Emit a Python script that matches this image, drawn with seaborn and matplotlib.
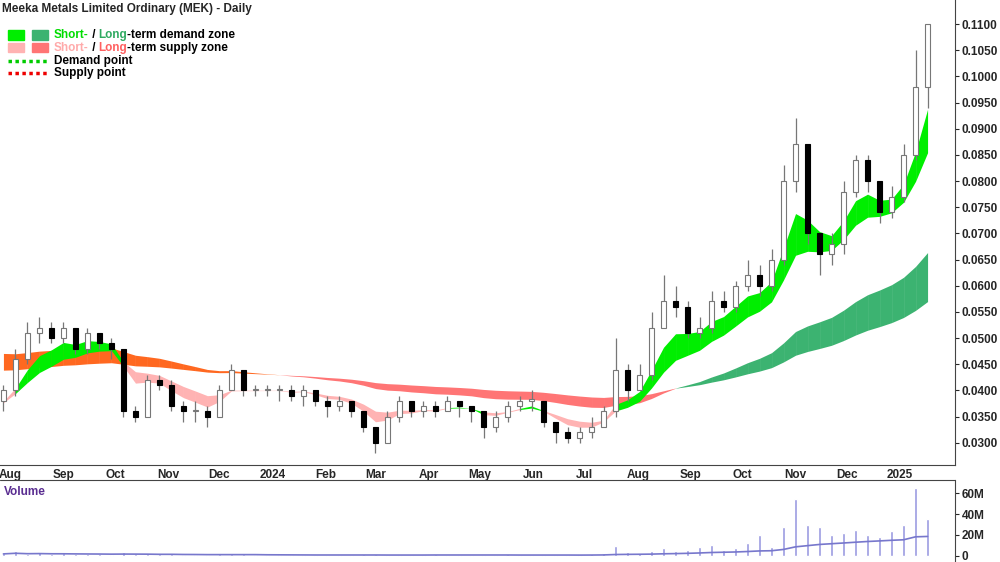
import numpy as np
import pandas as pd
import seaborn as sns
import matplotlib.pyplot as plt
import matplotlib.dates as mdates
from matplotlib.ticker import FuncFormatter

# weekly readings (price in $, volume in millions)
closes = [0.040, 0.046, 0.051, 0.052, 0.050, 0.052, 0.048, 0.051, 0.049, 0.048,
          0.036, 0.035, 0.042, 0.041, 0.037, 0.036, 0.036, 0.035, 0.040, 0.044,
          0.040, 0.040, 0.040, 0.040, 0.039, 0.040, 0.038, 0.037, 0.038, 0.036,
          0.033, 0.030, 0.035, 0.038, 0.036, 0.037, 0.036, 0.038, 0.037, 0.036,
          0.033, 0.035, 0.037, 0.038, 0.038, 0.034, 0.032, 0.031, 0.032, 0.033,
          0.036, 0.044, 0.040, 0.043, 0.052, 0.057, 0.056, 0.051, 0.052, 0.057,
          0.056, 0.060, 0.062, 0.060, 0.065, 0.080, 0.087, 0.070, 0.066, 0.068,
          0.078, 0.084, 0.080, 0.074, 0.077, 0.085, 0.098, 0.110]
highs = [0.041, 0.048, 0.053, 0.054, 0.053, 0.053, 0.052, 0.052, 0.051, 0.050,
         0.048, 0.037, 0.043, 0.043, 0.042, 0.038, 0.038, 0.037, 0.041, 0.045,
         0.044, 0.041, 0.041, 0.041, 0.041, 0.041, 0.040, 0.039, 0.039, 0.038,
         0.036, 0.033, 0.036, 0.039, 0.038, 0.038, 0.038, 0.039, 0.038, 0.037,
         0.036, 0.036, 0.038, 0.039, 0.040, 0.038, 0.034, 0.033, 0.033, 0.035,
         0.037, 0.050, 0.045, 0.045, 0.055, 0.062, 0.060, 0.057, 0.054, 0.059,
         0.059, 0.061, 0.065, 0.064, 0.067, 0.083, 0.092, 0.075, 0.070, 0.070,
         0.080, 0.085, 0.085, 0.080, 0.079, 0.087, 0.105, 0.110]
lows = [0.036, 0.039, 0.045, 0.049, 0.049, 0.049, 0.047, 0.047, 0.048, 0.046,
        0.035, 0.034, 0.035, 0.040, 0.036, 0.034, 0.034, 0.033, 0.035, 0.040,
        0.039, 0.039, 0.039, 0.038, 0.038, 0.037, 0.037, 0.035, 0.036, 0.035,
        0.032, 0.028, 0.030, 0.034, 0.035, 0.035, 0.035, 0.036, 0.035, 0.034,
        0.031, 0.032, 0.034, 0.036, 0.036, 0.033, 0.030, 0.030, 0.030, 0.031,
        0.033, 0.035, 0.038, 0.040, 0.042, 0.052, 0.054, 0.050, 0.050, 0.051,
        0.055, 0.055, 0.059, 0.058, 0.059, 0.064, 0.078, 0.068, 0.062, 0.064,
        0.066, 0.077, 0.078, 0.072, 0.073, 0.076, 0.084, 0.094]
volume_m = [3, 5, 2, 4, 2, 3, 2, 2, 2, 1,
            4, 2, 2, 2, 2, 1, 1, 1, 2, 2,
            2, 1, 1, 1, 1, 1, 1, 1, 1, 1,
            2, 2, 1, 1, 1, 1, 2, 1, 1, 1,
            1, 1, 2, 1, 1, 1, 1, 1, 1, 2,
            3, 9, 4, 3, 5, 7, 5, 6, 8, 10,
            6, 7, 12, 20, 8, 28, 55, 30, 28, 20,
            22, 25, 20, 18, 24, 30, 65, 35]
# band levels just before the first week
short_seed = [0.0365, 0.0375]
long_seed = [0.0475, 0.0440]

dates = pd.date_range('2023-07-28', periods=len(closes), freq='W-FRI')
df = pd.DataFrame({'Date': dates, 'Close': closes, 'High': highs,
                   'Low': lows, 'Volume': np.array(volume_m) * 1e6})
df['Open'] = df['Close'].shift().fillna(0.038)


def ema(seed, span):
    s = pd.concat([pd.Series([seed]), df['Close']], ignore_index=True)
    return s.ewm(span=span, adjust=False).mean().iloc[1:].reset_index(drop=True)


df['s_fast'] = ema(short_seed[0], 5)
df['s_slow'] = ema(short_seed[1], 10)
df['l_fast'] = ema(long_seed[0], 34)
df['l_slow'] = ema(long_seed[1], 64)
df['vol_ma'] = df['Volume'].rolling(12, min_periods=1).mean() * 0.6

GREEN = '#00ee00'
DKGREEN = '#3cb371'
PINK = '#ffb3b3'
RED = '#ff7575'
ORANGE = '#ff6820'

sns.set_style('white')
plt.rcParams['font.family'] = ['Liberation Sans', 'DejaVu Sans']

fig = plt.figure(figsize=(10, 5.62), dpi=100)
ax = fig.add_axes([0.0, 0.173, 0.955, 0.827])
axv = fig.add_axes([0.0, 0.0, 0.955, 0.146], sharex=ax)

x = mdates.date2num(df['Date'])

# long-term band
lup = df[['l_fast', 'l_slow']].max(axis=1)
llo = df[['l_fast', 'l_slow']].min(axis=1)
l_up = df['l_fast'] >= df['l_slow']
short_above = df[['s_fast', 's_slow']].min(axis=1) > lup
for i in range(len(df) - 1):
    if l_up[i] and short_above[i]:
        c = DKGREEN
    elif df['Close'][i] > lup[i] and i < 12 or (l_up[i] and not short_above[i]):
        c = ORANGE
    else:
        c = RED
    ax.fill_between(x[i:i + 2], llo[i:i + 2], lup[i:i + 2], color=c, lw=0, zorder=1)

# short-term band
sup = df[['s_fast', 's_slow']].max(axis=1)
slo = df[['s_fast', 's_slow']].min(axis=1)
s_up = df['s_fast'] >= df['s_slow']
for i in range(len(df) - 1):
    if s_up[i]:
        c = GREEN
    elif df['s_slow'][i] > lup[i]:
        c = ORANGE
    else:
        c = PINK
    ax.fill_between(x[i:i + 2], slo[i:i + 2], sup[i:i + 2], color=c, lw=0, zorder=2)

# candles
w = 2.6
for xi, o, h, l, c in zip(x, df['Open'], df['High'], df['Low'], df['Close']):
    ax.vlines(xi, l, h, color='#777777', lw=0.9, zorder=3)
    up = c >= o
    bottom = min(o, c)
    height = max(abs(c - o), 0.0003)
    ax.bar(xi, height, bottom=bottom, width=w, color='white' if up else 'black',
           edgecolor='#777777' if up else 'black', lw=0.8, zorder=4)

ax.set_xlim(mdates.date2num(pd.Timestamp('2023-07-26')),
            mdates.date2num(pd.Timestamp('2025-02-02')))
ax.set_ylim(0.0258, 0.1146)
ax.yaxis.tick_right()
ax.set_yticks(np.arange(0.03, 0.1101, 0.005))
ax.yaxis.set_major_formatter(FuncFormatter(lambda v, p: f'{v:.4f}'))
ax.tick_params(axis='y', labelsize=8.5, length=3, direction='out', pad=2)
for t in ax.get_yticklabels():
    t.set_fontweight('bold')

months = pd.date_range('2023-08-01', '2025-01-01', freq='MS')
ax.set_xticks(mdates.date2num(months))
ax.set_xticklabels([str(m.year) if m.month == 1 else m.strftime('%b') for m in months],
                   fontsize=8.5, fontweight='bold')
ax.tick_params(axis='x', length=4, direction='inout', pad=1)
for s in ['top', 'left']:
    ax.spines[s].set_visible(False)
ax.spines['bottom'].set_color('#444444')
ax.spines['right'].set_color('#444444')

# volume panel
axv.bar(x, df['Volume'], width=2.0, color='#9a9ae0', zorder=2)
sns.lineplot(x=x, y=df['vol_ma'], ax=axv, color='#7777cc', lw=1.2, zorder=3)
axv.set_ylim(-6e6, 73e6)
axv.yaxis.tick_right()
axv.set_yticks([0, 20e6, 40e6, 60e6])
axv.set_yticklabels(['0', '20M', '40M', '60M'], fontsize=8.5, fontweight='bold')
axv.tick_params(axis='y', length=3, pad=2)
axv.tick_params(axis='x', bottom=False, labelbottom=False)
axv.set_ylabel('')
for s in ['top', 'left', 'bottom']:
    axv.spines[s].set_visible(False)
axv.spines['right'].set_color('#444444')
axv.text(0.004, 0.93, 'Volume', transform=axv.transAxes, color='#5a2d91',
         fontsize=8.5, fontweight='bold', va='top')
fig.add_artist(plt.Line2D([0, 0.955], [0.146, 0.146], color='#444444', lw=0.8))

# title and legend
fig.text(0.002, 0.995, 'Meeka Metals Limited Ordinary (MEK) - Daily', fontsize=8.5,
         fontweight='bold', va='top')
lx = 0.008
rows = [0.937, 0.915, 0.892, 0.870]
fig.add_artist(plt.Rectangle((lx, rows[0] - 0.008), 0.016, 0.017, color=GREEN))
fig.add_artist(plt.Rectangle((lx + 0.024, rows[0] - 0.008), 0.016, 0.017, color=DKGREEN))
fig.add_artist(plt.Rectangle((lx, rows[1] - 0.008), 0.016, 0.017, color=PINK))
fig.add_artist(plt.Rectangle((lx + 0.024, rows[1] - 0.008), 0.016, 0.017, color=RED))
fig.add_artist(plt.Line2D([lx, lx + 0.04], [rows[2], rows[2]], color='#00cc00', lw=2.5, ls=(0, (1, 1))))
fig.add_artist(plt.Line2D([lx, lx + 0.04], [rows[3], rows[3]], color='#ee0000', lw=2.5, ls=(0, (1, 1))))

tx = 0.054
r = fig.canvas.get_renderer()


def ltext(y, parts):
    xx = tx
    for s, c in parts:
        tt = fig.text(xx, y, s, fontsize=8.5, va='center', fontweight='bold', color=c)
        xx += tt.get_window_extent(renderer=r).width / fig.bbox.width


ltext(rows[0], [('Short-', '#00dd00'), (' / ', 'black'), ('Long', '#2eaa60'), ('-term demand zone', 'black')])
ltext(rows[1], [('Short-', '#ffaaaa'), (' / ', 'black'), ('Long', '#ff6060'), ('-term supply zone', 'black')])
ltext(rows[2], [('Demand point', 'black')])
ltext(rows[3], [('Supply point', 'black')])

fig.savefig('out.png', dpi=100)
